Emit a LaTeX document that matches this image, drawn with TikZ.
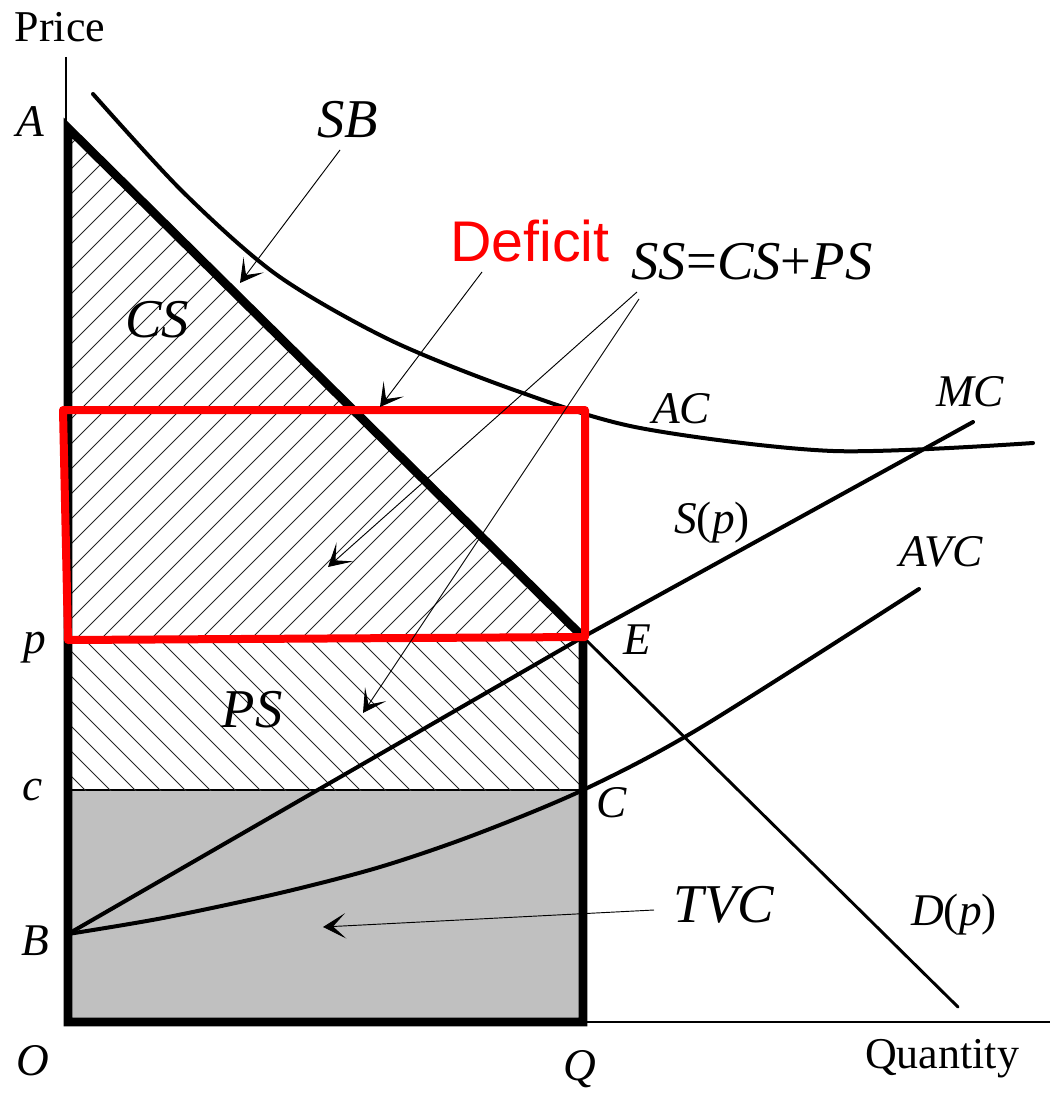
\documentclass[tikz,border=0pt]{standalone}
\usepackage{fontspec}
\setmainfont{Liberation Serif}
\newfontfamily\sansf{Liberation Sans}
\usetikzlibrary{arrows.meta}
\definecolor{tvcgray}{HTML}{C0C0C0}
\definecolor{defred}{HTML}{FF0000}
\begin{document}
\begin{tikzpicture}[x=0.75pt,y=-0.75pt,
  thickline/.style={line width=6.5pt, line join=miter},
  curve/.style={line width=3pt, line cap=round},
  axisline/.style={line width=1.1pt},
  pointer/.style={line width=0.7pt, -{Stealth[length=17pt,width=19pt,inset=9.5pt]}},
  hatch/.style={line width=0.65pt, black!85},
  lbl/.style={font=\fontsize{34}{40}\selectfont\itshape, inner sep=0pt, anchor=base},
  biglbl/.style={font=\fontsize{41}{48}\selectfont\itshape, inner sep=0pt, anchor=base},
  axlbl/.style={font=\fontsize{33}{38}\selectfont, inner sep=0pt, anchor=base}]
\useasboundingbox (0,0) rectangle (1057,1094);

% key points
\coordinate (Atop) at (66,57);
\coordinate (A) at (68,128);
\coordinate (P) at (68,637);
\coordinate (E) at (583,637);
\coordinate (Cc) at (68,790);
\coordinate (C) at (583,790);
\coordinate (B) at (68,934);
\coordinate (O) at (68,1022);
\coordinate (Q) at (583,1022);
\coordinate (Xend) at (1050,1022);
\coordinate (Dend) at (958,1007);
\coordinate (MCend) at (973,422);

% TVC area
\fill[tvcgray] (Cc) rectangle (Q);
\draw[axisline] (Cc) -- (C);

% CS hatching
\begin{scope}
\clip (A) -- (P) -- (E) -- cycle;
\foreach \k in {0,...,42} \draw[hatch] ({-450+25*\k},640) -- ++(560,-560);
\end{scope}
% PS hatching
\begin{scope}
\clip (P) rectangle (C);
\foreach \k in {0,...,29} \draw[hatch] ({-100+25*\k},630) -- ++(170,170);
\end{scope}

% axes
\draw[axisline] (Atop) -- (66,128);
\draw[axisline] (Q) -- (Xend);

% demand continuation
\draw[line width=2.2pt, line cap=round] (E) -- (Dend);

% AC curve
\draw[curve] plot[smooth] coordinates {(93,94) (183,192) (277,275) (390,340) (517,391) (640,428) (833,451) (1033,443)};
% MC
\draw[curve] (B) -- (E) -- (MCend);
% AVC
\draw[curve] plot[smooth] coordinates {(68,934) (163,918) (280,893) (380,867) (474,835) (583,790) (700,728) (919,589)};

% thick boundary
\draw[thickline] (E) -- (A) -- (O) -- (Q) -- (E);

% deficit rectangle
\coordinate (R1) at (63,410);
\coordinate (R2) at (585,410);
\coordinate (R3) at (585,637);
\coordinate (R4) at (68,640);
\draw[defred, line width=6pt, line join=round] (R1) -- (R2) -- (R3) -- (R4) -- cycle;

% pointer arrows
\coordinate (sbs) at (340,150);  \coordinate (sbt) at (240,283);
\coordinate (dfs) at (482,272);  \coordinate (dft) at (380,407);
\coordinate (ss1) at (637,292);  \coordinate (sst1) at (328,567);
\coordinate (ss2) at (639,299);  \coordinate (sst2) at (363,713);
\coordinate (tvs) at (654,910);  \coordinate (tvt) at (323,927);
\draw[pointer] (sbs) -- (sbt);
\draw[pointer] (dfs) -- (dft);
\draw[pointer] (ss1) -- (sst1);
\draw[pointer] (ss2) -- (sst2);
\draw[pointer] (tvs) -- (tvt);

% labels
\node[axlbl] (price) at (60,42) {Price};
\node[axlbl] (qty) at (942,1068) {Quantity};
\node[lbl] (lA) at (30,137) {A};
\node[biglbl] (lSB) at (348,138) {SB};
\node[biglbl] (lCS) at (157,338) {CS};
\node[font=\fontsize{43}{50}\selectfont\sansf, text=defred, inner sep=0pt, anchor=base] (ldef) at (530,262) {Deficit};
\node[biglbl] (lSS) at (752,280) {SS\textup{=}CS\textup{+}PS};
\node[lbl] (lAC) at (681,423) {AC};
\node[lbl] (lMC) at (970,406) {MC};
\node[lbl] (lS) at (712,533) {S\textup{(}p\textup{)}};
\node[lbl] (lAVC) at (941,566) {AVC};
\node[lbl] (lE) at (637,654) {E};
\node[lbl] (lC) at (612,817) {C};
\node[lbl] (lp) at (35,653) {p};
\node[lbl] (lc) at (33,800) {c};
\node[biglbl] (lPS) at (252,727) {PS};
\node[lbl] (lB) at (35,955) {B};
\node[biglbl] (lTVC) at (724,922) {TVC};
\node[lbl] (lD) at (954,925) {D\textup{(}p\textup{)}};
\node[lbl] (lO) at (33,1075) {O};
\node[lbl] (lQ) at (580,1080) {Q};
\end{tikzpicture}
\end{document}
